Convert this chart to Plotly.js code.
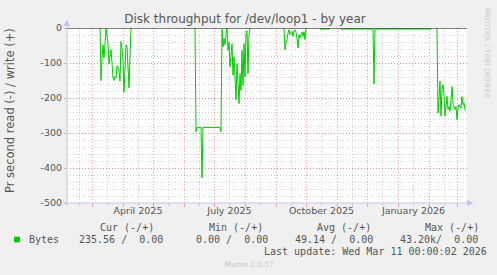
<!DOCTYPE html>
<html><head><meta charset="utf-8">
<script src="https://cdn.plot.ly/plotly-3.0.1.min.js"></script>
<style>html,body{margin:0;padding:0;background:#f0f0f0;}#chart{width:497px;height:275px;}</style>
</head><body><div id="chart"></div>
<script>
// ---- data ----
const readDates = [
 '2025-03-09','2025-03-10','2025-03-11','2025-03-12','2025-03-13','2025-03-14','2025-03-15','2025-03-16','2025-03-17','2025-03-18',
 '2025-03-19','2025-03-20','2025-03-21','2025-03-22','2025-03-23','2025-03-24','2025-03-25','2025-03-26','2025-03-27','2025-03-28',
 '2025-03-29','2025-03-30','2025-03-31','2025-04-01','2025-04-02','2025-04-03','2025-04-04','2025-04-05','2025-04-06','2025-04-07',
 '2025-04-08','2025-04-09','2025-04-10',
 '2025-06-12','2025-06-13','2025-06-14','2025-06-18','2025-06-19','2025-06-20','2025-07-07','2025-07-08',
 '2025-07-09','2025-07-10','2025-07-11','2025-07-12','2025-07-13','2025-07-14','2025-07-15','2025-07-16','2025-07-17','2025-07-18',
 '2025-07-19','2025-07-20','2025-07-21','2025-07-22','2025-07-23','2025-07-24','2025-07-25','2025-07-26','2025-07-27','2025-07-28',
 '2025-07-29','2025-07-30','2025-07-31','2025-08-01','2025-08-02','2025-08-03','2025-08-04','2025-08-05','2025-08-06','2025-08-07',
 '2025-09-09','2025-09-10','2025-09-11','2025-09-12','2025-09-13','2025-09-14','2025-09-15','2025-09-16','2025-09-17','2025-09-18',
 '2025-09-19','2025-09-20','2025-09-21','2025-09-22','2025-09-23','2025-09-24','2025-09-25','2025-09-26','2025-09-27','2025-09-28',
 '2025-09-29','2025-09-30','2025-10-01','2025-10-02',
 '2025-10-15','2025-10-25','2025-10-26',
 '2025-11-05','2025-12-07','2025-12-08','2025-12-09','2026-02-03','2026-02-04',
 '2026-02-09','2026-02-10','2026-02-11','2026-02-12','2026-02-13','2026-02-14','2026-02-15','2026-02-16','2026-02-17','2026-02-18',
 '2026-02-19','2026-02-20','2026-02-21','2026-02-22','2026-02-23','2026-02-24','2026-02-25','2026-02-26','2026-02-27','2026-02-28',
 '2026-03-01','2026-03-02','2026-03-03','2026-03-04','2026-03-05','2026-03-06','2026-03-07','2026-03-08','2026-03-09','2026-03-10'
];
const readValues = [
 0,-150,-90,-48,-85,-40,-2,-20,-43,-103,
 -80,-62,-100,-143,-150,-138,-143,-108,-112,-124,
 -152,-39,-60,-90,-184,-110,-48,-52,-110,-171,
 -80,0,null,
 0,-297,-284,-284,-428,-284,-284,-297,
 -4,-54,-30,-48,-20,0,-64,-40,-111,-70,
 -45,-135,-83,-140,-205,-102,-150,-216,-130,-178,
 -64,-164,-45,-140,-16,-8,-130,-20,0,null,
 0,-62,-40,-33,-15,-5,-19,-12,-10,-24,
 -8,-5,-12,-30,-57,-19,-29,-18,-12,-24,
 -10,-33,0,null,
 -3,-3,null,
 -3,-3,-160,-3,-3,null,
 0,-243,-200,-152,-252,-176,-162,-190,-252,-210,
 -195,-233,-225,-238,-210,-167,-218,-229,-233,-224,
 -262,-229,-219,-224,-229,-196,-219,-214,-233,-236
];
const yTickValues = [0,-100,-200,-300,-400,-500];
const yTickLabels = ['0','-100','-200','-300','-400','-500'];
const xTickDates  = ['2025-04-16','2025-07-16 12:00','2025-10-16 12:00','2026-01-16 12:00'];
const xTickLabels = ['April 2025','July 2025','October 2025','January 2026'];
const xRange = ['2025-02-04','2026-03-11'];
const legendName = 'Bytes';
const legendHeaders = ['Cur (-/+)','Min (-/+)','Avg (-/+)','Max (-/+)'];
const legendValues  = ['235.56 /  0.00','0.00 /  0.00','49.14 /  0.00','43.20k/  0.00'];
const titleText = 'Disk throughput for /dev/loop1 - by year';
const yTitleText = 'Pr second read (-) / write (+)';
const lastUpdateText = 'Last update: Wed Mar 11 00:00:02 2026';
const footerText = 'Munin 2.0.57';
const sideText = 'RRDTOOL / TOBI OETIKER';

// ---- geometry ----
const W=497,H=275,L=67,R=30,T=28,B=72;
const pw=W-L-R, ph=H-T-B;
const px = x => (x-L)/pw;
const py = y => (H-B-y)/ph;
const nb = s => s.replace(/ /g,'\u00a0');

const majorC='rgba(225,90,90,0.55)', minorC='rgba(150,150,150,0.45)', axisC='#c4c4ee';
const dash='1px,2px';
const textC='#555';
const mono='DejaVu Sans Mono', sans='DejaVu Sans';

const traces=[
 {x:readDates,y:readValues,type:'scatter',mode:'lines',line:{color:'#00cc00',width:1,shape:'linear'},connectgaps:false,hoverinfo:'skip'},
 {x:[],y:[],xaxis:'x2',type:'scatter',mode:'lines',hoverinfo:'skip'}
];

const ann=[];
const hdrX=[98.3,206.7,315,422.7], valX=[77.3,194.3,293.3,398.3];
legendHeaders.forEach((t,i)=>ann.push({text:nb(t),x:px(hdrX[i]),y:py(227.7)}));
legendValues.forEach((t,i)=>ann.push({text:nb(t),x:px(valX[i]),y:py(239.3)}));
ann.push({text:legendName,x:px(26.7),y:py(239.3)});
ann.push({text:nb(lastUpdateText),x:px(261.7),y:py(251)});
ann.forEach(a=>{a.xref='paper';a.yref='paper';a.showarrow=false;a.xanchor='left';a.yanchor='middle';a.font={family:mono,size:10,color:textC};});
ann.push({text:footerText,x:px(223.3),y:py(264.3),xref:'paper',yref:'paper',showarrow:false,xanchor:'left',yanchor:'middle',font:{family:sans,size:7.5,color:'#c8c8c8'}});
ann.push({text:sideText,x:px(487),y:py(53),xref:'paper',yref:'paper',showarrow:false,textangle:90,xanchor:'center',yanchor:'middle',font:{family:sans,size:7,color:'#c8c8c8'}});
ann.push({text:yTitleText,x:px(10),y:py(111),xref:'paper',yref:'paper',showarrow:false,textangle:-90,xanchor:'center',yanchor:'middle',font:{family:sans,size:11.5,color:textC}});

const shapes=[
 {type:'line',xref:'paper',yref:'paper',x0:px(63),x1:px(469),y0:0,y1:0,line:{color:axisC,width:1},layer:'above'},
 {type:'line',xref:'paper',yref:'paper',x0:0,x1:0,y0:py(206),y1:py(24),line:{color:axisC,width:1},layer:'above'},
 {type:'path',xref:'paper',yref:'paper',path:`M ${px(63.5)} ${py(26)} L ${px(66.7)} ${py(19.5)} L ${px(70)} ${py(26)} Z`,fillcolor:axisC,line:{width:0},layer:'above'},
 {type:'path',xref:'paper',yref:'paper',path:`M ${px(467)} ${py(199.8)} L ${px(473.5)} ${py(203)} L ${px(467)} ${py(206.2)} Z`,fillcolor:axisC,line:{width:0},layer:'above'},
 {type:'line',xref:'paper',yref:'y',x0:0,x1:1,y0:0,y1:0,line:{color:'#000',width:1},layer:'above'},
 {type:'rect',xref:'paper',yref:'paper',x0:px(14),x1:px(20),y0:py(242.3),y1:py(236.7),fillcolor:'#00cc00',line:{width:0},layer:'above'}
];

const layout={
 width:W,height:H,margin:{l:L,r:R,t:T,b:B,pad:0},
 paper_bgcolor:'#f0f0f0',plot_bgcolor:'#ffffff',showlegend:false,
 title:{text:titleText,x:245/W,xref:'container',xanchor:'center',y:1-19/H,yref:'container',yanchor:'middle',font:{family:sans,size:12,color:textC}},
 xaxis:{type:'date',range:xRange,tickmode:'linear',tick0:'2025-01-01',dtick:'M1',showticklabels:false,
   showgrid:true,gridcolor:majorC,griddash:dash,gridwidth:1,ticks:'outside',ticklen:3,tickcolor:majorC,
   showline:false,zeroline:false,fixedrange:true,
   minor:{tick0:'2025-01-16',dtick:'M1',showgrid:true,gridcolor:minorC,griddash:dash,ticks:'outside',ticklen:2,tickcolor:minorC}},
 xaxis2:{type:'date',overlaying:'x',anchor:'y',side:'bottom',range:xRange,tickmode:'array',tickvals:xTickDates,ticktext:xTickLabels,
   showgrid:false,ticks:'',showline:false,zeroline:false,fixedrange:true,tickfont:{family:sans,size:9.5,color:textC}},
 yaxis:{range:[-500,0],tickmode:'array',tickvals:yTickValues,ticktext:yTickLabels,showgrid:true,gridcolor:majorC,griddash:dash,
   ticks:'outside',ticklen:2,tickcolor:majorC,showline:false,zeroline:false,fixedrange:true,
   tickfont:{family:sans,size:9.5,color:textC},
   minor:{tickmode:'linear',tick0:0,dtick:20,showgrid:true,gridcolor:minorC,griddash:dash}},
 annotations:ann,shapes:shapes
};
Plotly.newPlot('chart',traces,layout,{staticPlot:true,displayModeBar:false});
</script></body></html>
